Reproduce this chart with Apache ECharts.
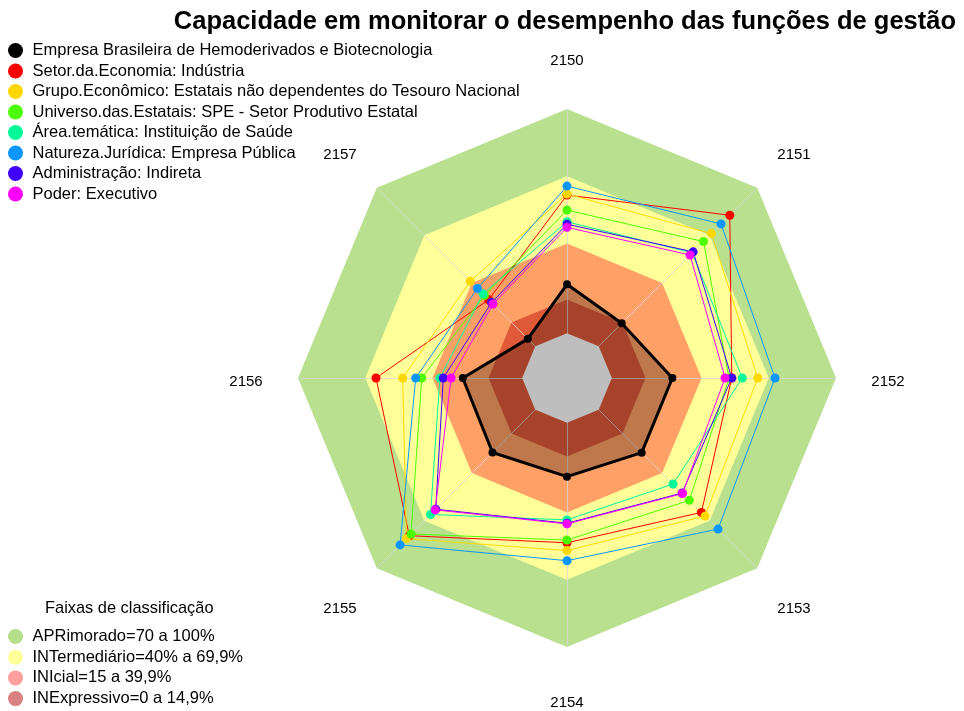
<!DOCTYPE html>
<html>
<head>
<meta charset="utf-8">
<script src="https://cdn.jsdelivr.net/npm/echarts@6/dist/echarts.min.js"></script>
<style>
  html, body { margin: 0; padding: 0; background: #fff; }
  #main { width: 964px; height: 711px; }
</style>
</head>
<body>
<div id="main"></div>
<script>
// eixos, na ordem em que aparecem (sentido horário, começando no topo)
var categories = ['2150', '2151', '2152', '2153', '2154', '2155', '2156', '2157'];

var seriesNames = [
  'Empresa Brasileira de Hemoderivados e Biotecnologia',
  'Setor.da.Economia: Indústria',
  'Grupo.Econômico: Estatais não dependentes do Tesouro Nacional',
  'Universo.das.Estatais: SPE - Setor Produtivo Estatal',
  'Área.temática: Instituição de Saúde',
  'Natureza.Jurídica: Empresa Pública',
  'Administração: Indireta',
  'Poder: Executivo'
];
var seriesColors = ['#000000', '#ff0000', '#ffd700', '#4cff00', '#00fa9a', '#0a96ff', '#4000ff', '#ff00ff'];

var empresa   = [21.8, 14.5, 27.0, 27.1, 24.0, 27.0, 26.5, 4.7];
var setor     = [61.6, 82.7, 53.5, 64.8, 53.5, 79.5, 65.2, 29.4];
var grupo     = [62.1, 71.1, 65.1, 67.1, 57.0, 81.3, 53.3, 41.0];
var universo  = [54.9, 66.1, 52.3, 57.2, 52.3, 78.4, 44.8, 32.1];
var area      = [49.7, 59.0, 58.2, 46.9, 43.3, 66.1, 36.7, 33.1];
var natureza  = [65.6, 77.2, 72.8, 75.3, 61.5, 85.3, 47.5, 36.5];
var adm       = [48.6, 59.6, 53.5, 52.6, 44.8, 62.8, 35.2, 27.6];
var poder     = [47.2, 57.6, 50.5, 52.9, 45.1, 63.2, 31.7, 26.7];
var seriesValues = [empresa, setor, grupo, universo, area, natureza, adm, poder];

// faixas de classificação
var bandNames = ['APRimorado=70 a 100%', 'INTermediário=40% a 69,9%', 'INIcial=15 a 39,9%', 'INExpressivo=0 a 14,9%'];
var bandLimits = [100, 70, 40, 15];
var bandLegendColors = ['#b5df8a', '#ffff99', '#ff9f9f', '#d98080'];
var bandFillColors = ['#b8e08e', '#ffff99', '#ffa066', '#e05a3a'];

var FONT = 'Liberation Sans, Arial, sans-serif';
var myChart = echarts.init(document.getElementById('main'));

// echarts desenha o radar no sentido anti-horário: inverte a ordem
var order = [0, 7, 6, 5, 4, 3, 2, 1];
function reorder(arr) { return order.map(function (i) { return arr[i]; }); }

var indicator = reorder(categories).map(function (c) {
  return { name: c, min: -20, max: 100 };
});

var series = [];
bandLimits.forEach(function (lim, i) {
  series.push({
    type: 'radar', name: bandNames[i], symbol: 'none', silent: true, z: 2,
    itemStyle: { color: bandLegendColors[i] },
    lineStyle: { width: 0 },
    areaStyle: { color: bandFillColors[i], opacity: 1 },
    data: [{ value: categories.map(function () { return lim; }) }]
  });
});
seriesNames.forEach(function (name, i) {
  var isMain = i === 0;
  series.push({
    type: 'radar', name: name, symbol: 'circle', z: 4,
    symbolSize: isMain ? 8 : 9,
    itemStyle: { color: seriesColors[i] },
    lineStyle: { color: seriesColors[i], width: isMain ? 3 : 1 },
    areaStyle: isMain ? { color: 'rgba(0,0,0,0.25)', opacity: 1 } : undefined,
    data: [{ value: reorder(seriesValues[i]) }]
  });
  if (isMain) {
    // miolo cinza
    series.push({
      type: 'radar', name: 'centro', symbol: 'none', silent: true, z: 4,
      lineStyle: { width: 0 },
      areaStyle: { color: '#bebebe', opacity: 1 },
      data: [{ value: categories.map(function () { return 0; }) }]
    });
  }
});

var option = {
  animation: false,
  textStyle: { fontFamily: FONT },
  title: [{
    text: 'Capacidade em monitorar o desempenho das funções de gestão',
    right: 8, top: 9, padding: 0,
    textStyle: { fontSize: 25.5, fontWeight: 'bold', color: '#000', fontFamily: FONT }
  }, {
    text: 'Faixas de classificação',
    left: 45, top: 600, padding: 0,
    textStyle: { fontSize: 16.4, fontWeight: 'normal', color: '#000', fontFamily: FONT }
  }],
  legend: [{
    data: seriesNames,
    orient: 'vertical', left: 8, top: 42, padding: 0,
    icon: 'circle', itemWidth: 20, itemHeight: 15, itemGap: 3.5,
    selectedMode: false,
    textStyle: { fontSize: 16.5, color: '#000', padding: [0, 0, 0, 2] }
  }, {
    data: bandNames,
    orient: 'vertical', left: 8, top: 628, padding: 0, height: 90,
    icon: 'circle', itemWidth: 20, itemHeight: 15, itemGap: 3.7,
    selectedMode: false,
    textStyle: { fontSize: 16.5, color: '#000', padding: [0, 0, 0, 2] }
  }],
  radar: {
    center: [567, 378],
    radius: 269,
    shape: 'polygon',
    z: 3,
    nameGap: 52,
    indicator: indicator,
    axisName: {
      color: '#000', fontSize: 15, fontFamily: FONT,
      align: 'center', verticalAlign: 'middle',
      formatter: function (name) { return '{n|' + name + '}'; },
      rich: { n: { color: '#000', fontSize: 15, fontFamily: FONT, padding: [8, 0, 0, 0] } }
    },
    axisLine: { lineStyle: { color: 'rgba(215,215,215,0.8)', width: 1 } },
    splitLine: { show: false },
    splitArea: { show: false }
  },
  series: series
};
myChart.setOption(option);
</script>
</body>
</html>
